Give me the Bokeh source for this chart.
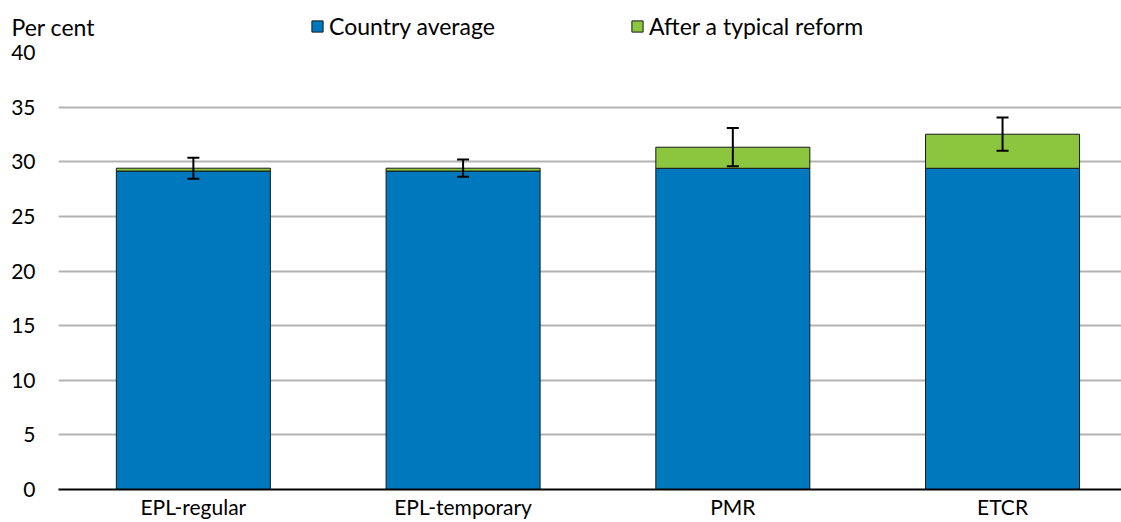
import numpy as np
from bokeh.plotting import figure
from bokeh.models import (ColumnDataSource, Whisker, TeeHead, FixedTicker, Legend,
                          LegendItem, Label)
from bokeh.embed import file_html
from bokeh.resources import INLINE

categories = ["EPL-regular", "EPL-temporary", "PMR", "ETCR"]
country_average = [29.15, 29.15, 29.4, 29.4]
reform_gain = [0.26, 0.26, 1.93, 3.12]
error_half = [0.96, 0.79, 1.75, 1.52]
y_ticks = [0, 5, 10, 15, 20, 25, 30, 35, 40]
series_names = ["Country average", "After a typical reform"]
unit_label = "Per cent"

FONT = "Lato"
BLUE = "#0078be"
GREEN = "#8cc63f"
EDGE = "#1a1a1a"

x = np.arange(len(categories)) + 0.5
avg = np.array(country_average)
total = avg + np.array(reform_gain)
err = np.array(error_half)

src = ColumnDataSource(dict(
    x=x, avg=avg, total=total,
    lo=total - err, hi=total + err,
))

# ---------- header: unit label + legend (own root, pixel coordinates) ----------
head = figure(width=1121, height=40, x_range=(0, 1121), y_range=(0, 40),
              output_backend="svg", toolbar_location=None,
              x_axis_location=None, y_axis_location=None,
              min_border_left=0, min_border_right=0, min_border_top=0, min_border_bottom=0)
head.outline_line_color = None
head.grid.visible = False
h_avg = head.vbar(x="x", top="avg", width=0.571, source=src,
                  fill_color=BLUE, line_color=EDGE, visible=False)
h_ref = head.vbar(x="x", bottom="avg", top="total", width=0.571, source=src,
                  fill_color=GREEN, line_color=EDGE, visible=False)
head.add_layout(Label(x=11, y=14, text=unit_label, text_baseline="middle",
                      text_font=FONT, text_font_size="23px", text_color="black"))
legend = Legend(items=[LegendItem(label=series_names[0], renderers=[h_avg]),
                       LegendItem(label=series_names[1], renderers=[h_ref])],
                orientation="horizontal", location=(310, 0),
                glyph_width=14, glyph_height=14, label_standoff=5, spacing=135,
                padding=0, margin=0, border_line_color=None, background_fill_alpha=0,
                label_text_font=FONT, label_text_font_size="23px", label_text_color="black")
head.add_layout(legend)

# ---------- main chart ----------
p = figure(width=1121, height=482, x_range=(0, 3.941), y_range=(0, 40),
           output_backend="svg", toolbar_location=None,
           min_border_left=58, min_border_right=0, min_border_top=12, min_border_bottom=33)
p.outline_line_color = None

p.vbar(x="x", width=0.571, bottom=0, top="avg", source=src,
       fill_color=BLUE, line_color=EDGE, line_width=1)
p.vbar(x="x", width=0.571, bottom="avg", top="total", source=src,
       fill_color=GREEN, line_color=EDGE, line_width=1)

wh = Whisker(base="x", lower="lo", upper="hi", source=src, level="annotation",
             line_color="black", line_width=2,
             upper_head=TeeHead(size=12, line_color="black", line_width=2),
             lower_head=TeeHead(size=12, line_color="black", line_width=2))
p.add_layout(wh)

p.xaxis.ticker = FixedTicker(ticks=list(x))
p.xaxis.major_label_overrides = {float(xi): c for xi, c in zip(x, categories)}
p.xaxis.major_tick_line_color = None
p.xaxis.major_tick_out = 0
p.xaxis.major_tick_in = 0
p.xaxis.minor_tick_line_color = None
p.xaxis.axis_line_color = "black"
p.xaxis.axis_line_width = 2
p.xaxis.major_label_standoff = 4
p.xaxis.major_label_text_font = FONT
p.xaxis.major_label_text_font_size = "21px"
p.xaxis.major_label_text_color = "black"

p.yaxis.ticker = FixedTicker(ticks=y_ticks)
p.yaxis.major_tick_line_color = None
p.yaxis.major_tick_out = 0
p.yaxis.major_tick_in = 0
p.yaxis.minor_tick_line_color = None
p.yaxis.axis_line_color = None
p.yaxis.major_label_standoff = 23
p.yaxis.major_label_text_font = FONT
p.yaxis.major_label_text_font_size = "21px"
p.yaxis.major_label_text_color = "black"

p.xgrid.grid_line_color = None
p.ygrid.ticker = FixedTicker(ticks=y_ticks[1:])
p.ygrid.grid_line_color = "#b3b3b3"
p.ygrid.grid_line_width = 2

open("out.html", "w").write(file_html([head, p], INLINE))
